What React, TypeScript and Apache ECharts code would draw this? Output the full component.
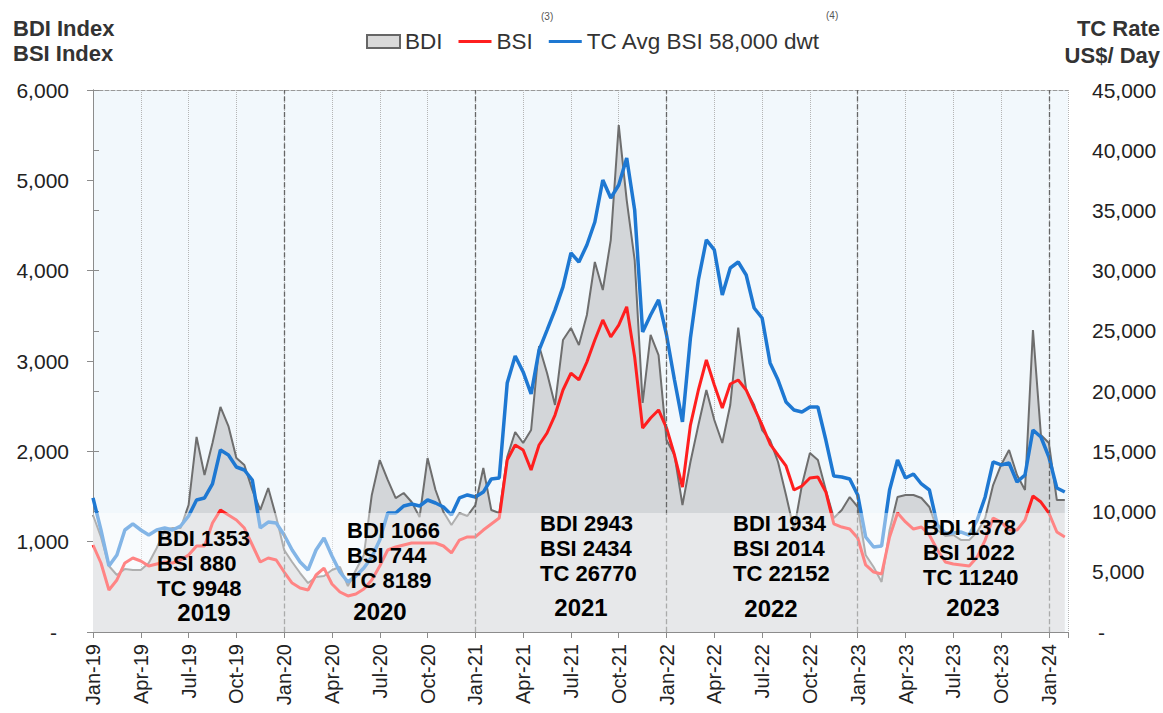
import React, { useEffect, useRef } from 'react';
import * as echarts from 'echarts';

// Half-month sampling points starting Jan-2019 (value = months since 1 Jan 2019)
const bdi = [1295,1052,731,631,697,686,686,764,930,1129, 1151,1151,1406,2159,1738,2092,2491,2280,1926,1849,
  1572,1351,1594,1273,908,775,653,542,609,620, 686,720,509,686,852,1517,1904,1683,1483,1539,
  1439,1273,1926,1572,1328,1184,1317,1284,1406,1815, 1350,1317,1937,2214,2092,2236,3166,2867,2513,3232,
  3365,3177,3509,4096,3786,4339,5612,4782,4118,2535, 3288,3066,2125,1959,1406,1882,2291,2679,2347,2092,
  2513,3370,2679,2513,2236,2125,1882,1517,1129,1627, 1982,1904,1572,1262,1351,1494,1384,852,720,554,
  1129,1494,1517,1517,1483,1384,1129,1063,1074,1018, 1018,1107,1262,1627,1849,2015,1738,1572,3343,2181,
  2092,1461,1461];
const bsi = [963,764,465,576,764,819,786,731,753,775, 764,797,852,952,952,1207,1351,1295,1240,1151,
  963,775,819,797,664,542,487,465,631,708, 531,443,399,421,476,576,731,908,941,963,
  985,985,985,985,952,875,1018,1052,1052,1129, 1196,1262,1904,2070,2015,1793,2070,2203,2402,2679,
  2867,2790,2989,3232,3454,3266,3398,3600,3044,2258, 2369,2458,2258,1959,1605,2291,2679,3011,2734,2480,
  2745,2790,2679,2480,2291,2081,1959,1838,1572,1616, 1705,1716,1550,1196,1162,1140,1041,742,664,642,
  1052,1317,1218,1140,1162,1074,908,775,753,742, 731,830,1018,1262,1218,1129,1129,1240,1506,1439,
  1317,1107,1052];
const tc = [11130,8470,5480,6390,8470,8970,8470,8050,8470,8640, 8470,8800,9630,10960,11130,12290,15110,14700,13700,13450,
  12620,8640,9130,9050,8050,6810,5810,5150,6810,7800, 6310,4980,4150,4650,5310,6230,7640,9880,9880,10460,
  10630,10460,10960,10710,10380,9710,11130,11380,11210,11620, 12700,12790,20670,22920,21590,19760,23410,25070,26740,28650,
  31470,30720,32130,34040,37530,36030,37110,39360,35040,24910, 26320,27570,24660,20920,17440,24410,29230,32550,31720,27980,
  30220,30720,29640,26900,26070,22340,20920,19100,18430,18270, 18680,18680,15940,12950,12870,12700,11380,7890,7060,7140,
  11790,14280,12790,13120,12290,11790,8880,8220,8220,8300, 8050,9300,11210,14120,13870,14030,12450,13040,16770,16190,
  14530,11960,11620];
const periods = bdi.map((_, i) => i / 2);

const quarterLabels = ['Jan-19','Apr-19','Jul-19','Oct-19','Jan-20','Apr-20','Jul-20','Oct-20',
  'Jan-21','Apr-21','Jul-21','Oct-21','Jan-22','Apr-22','Jul-22','Oct-22',
  'Jan-23','Apr-23','Jul-23','Oct-23','Jan-24'];
const yearStarts = [12, 24, 36, 48, 60];

const annYears = ['2019', '2020', '2021', '2022', '2023'];
const annBDI = [1353, 1066, 2943, 1934, 1378];
const annBSI = [880, 744, 2434, 2014, 1022];
const annTC = [9948, 8189, 26770, 22152, 11240];

// layout of annotation boxes (pixels)
const annLeft = [157, 347, 540, 733, 923];
const annTop = [538, 530, 523, 523, 527];
const annYearX = [204, 380, 581, 771, 973];
const annYearY = [612, 611, 607, 608, 607];

const FONT = "'Liberation Sans', Arial, Helvetica, sans-serif";

export default function App() {
  const ref = useRef<HTMLDivElement>(null);
  useEffect(() => {
    if (!ref.current) return;
    const chart = echarts.init(ref.current, undefined, { renderer: 'svg' });

    const graphics: any[] = [];
    graphics.push({
      type: 'rect', silent: true, z: 100,
      shape: { x: 93, y: 513, width: 975, height: 119 },
      style: { fill: 'rgba(255,255,255,0.45)' },
    });
    annYears.forEach((yr, k) => {
      const lines = [`BDI ${annBDI[k]}`, `BSI ${annBSI[k]}`, `TC ${annTC[k]}`];
      lines.forEach((t, j) => {
        graphics.push({
          type: 'text', z: 101, silent: true,
          x: annLeft[k], y: annTop[k] + j * 25,
          style: { text: t, fill: '#000', fontSize: 22, fontWeight: 'bold', fontFamily: FONT,
            textAlign: 'left', textVerticalAlign: 'middle' },
        });
      });
      graphics.push({
        type: 'text', z: 101, silent: true,
        x: annYearX[k], y: annYearY[k],
        style: { text: yr, fill: '#000', fontSize: 24, fontWeight: 'bold', fontFamily: FONT,
          textAlign: 'center', textVerticalAlign: 'middle' },
      });
    });
    const title = (text: string, x: number, y: number, align: string) => ({
      type: 'text', z: 101, silent: true, x, y,
      style: { text, fill: '#333', fontSize: 22, fontWeight: 'bold', fontFamily: FONT,
        textAlign: align, textVerticalAlign: 'middle' },
    });
    graphics.push(title('BDI Index', 13, 28, 'left'));
    graphics.push(title('BSI Index', 13, 53, 'left'));
    graphics.push(title('TC Rate', 1160, 28, 'right'));
    graphics.push(title('US$/ Day', 1160, 55, 'right'));
    const sup = (text: string, x: number, y: number) => ({
      type: 'text', z: 101, silent: true, x, y,
      style: { text, fill: '#555', fontSize: 10, fontFamily: FONT, textAlign: 'left', textVerticalAlign: 'middle' },
    });
    graphics.push(sup('(3)', 541, 16));
    graphics.push(sup('(4)', 826, 15));

    const leftFmt = (v: number) => (v === 0 ? '{d|-}' : v.toLocaleString('en-US'));
    const rightFmt = (v: number) => (v === 0 ? '{d|-}' : v.toLocaleString('en-US'));
    const axisGray = '#8c8c8c';

    chart.setOption({
      animation: false,
      backgroundColor: '#ffffff',
      textStyle: { fontFamily: FONT },
      grid: { left: 93, right: 95, top: 90, bottom: 81, show: true, backgroundColor: '#f2f8fc', borderWidth: 0 },
      legend: {
        left: 361, top: 25, itemWidth: 33, itemHeight: 13, itemGap: 16,
        textStyle: { fontSize: 22.5, color: '#333', fontFamily: FONT },
        selectedMode: false,
        data: [
          { name: 'BDI', icon: 'rect', itemStyle: { color: '#d9d9d9', borderColor: '#666', borderWidth: 2 } },
          { name: 'BSI', icon: 'path://M0,0H33V3H0Z', itemStyle: { color: '#ff1f1f', borderWidth: 0 } },
          { name: 'TC Avg BSI 58,000 dwt', icon: 'path://M0,0H33V3H0Z', itemStyle: { color: '#1e78d2', borderWidth: 0 } },
        ],
      },
      xAxis: [
        {
          type: 'value', min: 0, max: 61.2, interval: 3, position: 'bottom',
          axisLine: { show: true, onZero: false, lineStyle: { color: axisGray } },
          axisTick: { show: true, length: 6, lineStyle: { color: axisGray } },
          axisLabel: {
            rotate: 90, fontSize: 20, color: '#222', margin: 12, fontFamily: FONT,
            formatter: (v: number) => {
              const q = v / 3;
              if (Math.abs(q - Math.round(q)) > 1e-6) return '';
              return quarterLabels[Math.round(q)] ?? '';
            },
          },
          splitLine: { show: true, lineStyle: { type: 'dotted', color: '#b5b5b5', width: 1 } },
        },
        {
          type: 'value', min: 0, max: 61.2, position: 'top',
          axisLine: { show: true, onZero: false, lineStyle: { color: '#999', type: 'dashed' } },
          axisTick: { show: false }, axisLabel: { show: false }, splitLine: { show: false },
        },
      ],
      yAxis: [
        {
          type: 'value', min: 0, max: 6000, interval: 1000, position: 'left',
          axisLine: { show: true, lineStyle: { color: axisGray } },
          axisTick: { show: true, length: 6, lineStyle: { color: axisGray } },
          splitLine: { show: false },
          axisLabel: { fontSize: 21, color: '#222', margin: 24, fontFamily: FONT, formatter: leftFmt,
            rich: { d: { fontSize: 21, color: '#222', padding: [0, 12, 0, 0] } } },
        },
        {
          type: 'value', min: 0, max: 45000, interval: 5000, position: 'right',
          axisLine: { show: true, lineStyle: { color: axisGray } },
          axisTick: { show: true, length: 6, lineStyle: { color: axisGray } },
          splitLine: { show: false },
          axisLabel: { fontSize: 21, color: '#222', margin: 24, fontFamily: FONT, formatter: rightFmt,
            rich: { d: { fontSize: 21, color: '#222', padding: [0, 0, 0, 6] } } },
        },
      ],
      series: [
        {
          name: 'BDI', type: 'line', xAxisIndex: 0, yAxisIndex: 0, symbol: 'none', showSymbol: false,
          data: periods.map((m, i) => [m, bdi[i]]),
          lineStyle: { color: '#6e6e6e', width: 2 },
          itemStyle: { color: '#d9d9d9' },
          areaStyle: { color: '#d3d6d9', opacity: 1 },
          z: 2,
          markLine: {
            silent: true, symbol: 'none', label: { show: false },
            lineStyle: { type: 'dashed', color: '#666', width: 1.3 },
            data: yearStarts.map((m) => ({ xAxis: m })),
          },
        },
        {
          name: 'BSI', type: 'line', xAxisIndex: 0, yAxisIndex: 0, symbol: 'none', showSymbol: false,
          data: periods.map((m, i) => [m, bsi[i]]),
          lineStyle: { color: '#ff1f1f', width: 3 },
          itemStyle: { color: '#ff1f1f' },
          z: 3,
        },
        {
          name: 'TC Avg BSI 58,000 dwt', type: 'line', xAxisIndex: 0, yAxisIndex: 1, symbol: 'none', showSymbol: false,
          data: periods.map((m, i) => [m, tc[i]]),
          lineStyle: { color: '#1e78d2', width: 3.5 },
          itemStyle: { color: '#1e78d2' },
          z: 4,
        },
      ],
      graphic: graphics,
    });
    return () => chart.dispose();
  }, []);
  return <div ref={ref} style={{ width: 1163, height: 713, position: 'absolute', left: 0, top: 0 }} />;
}
